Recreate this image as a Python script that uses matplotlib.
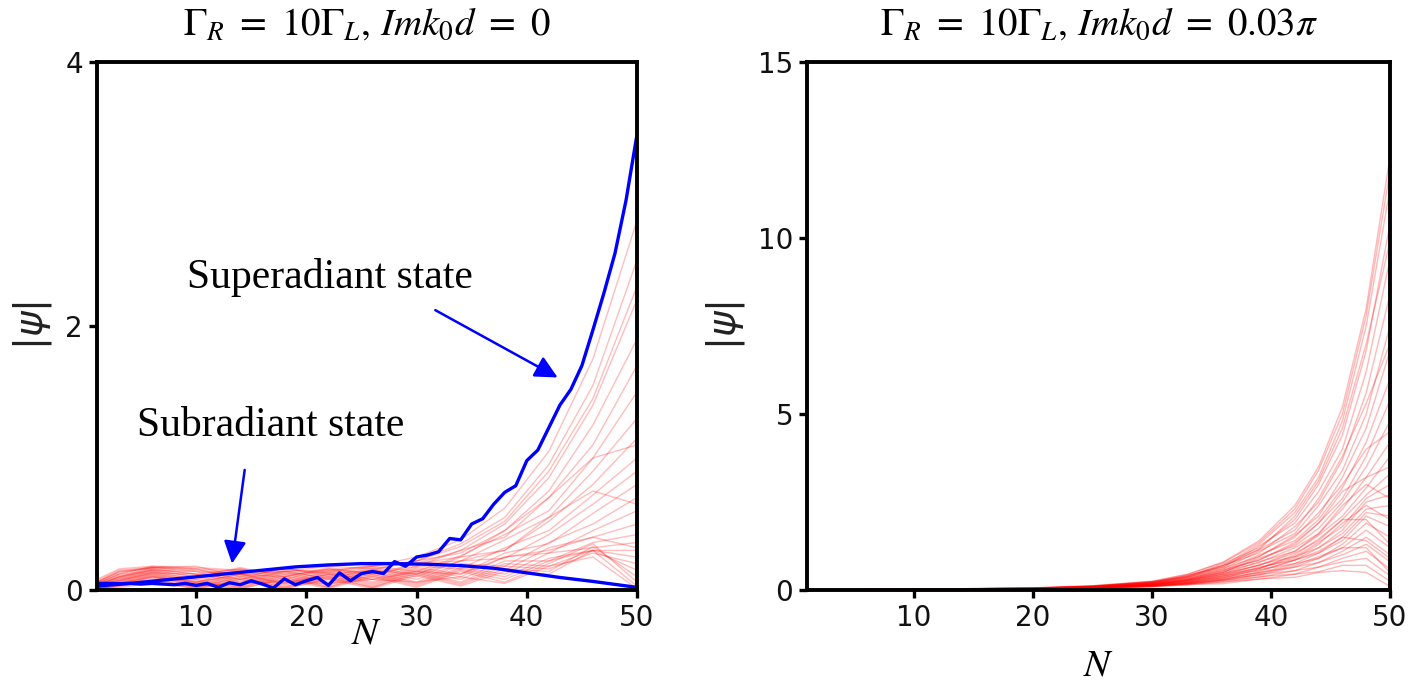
import matplotlib
matplotlib.use("Agg")
import matplotlib.pyplot as plt

# ---------------- data ----------------
N_full = list(range(1, 51))
super_state = [0.05, 0.05, 0.048, 0.05, 0.045, 0.05, 0.045, 0.04, 0.05, 0.035,
               0.05, 0.02, 0.055, 0.04, 0.07, 0.045, 0.015, 0.085, 0.04, 0.07,
               0.095, 0.035, 0.13, 0.07, 0.125, 0.14, 0.125, 0.215, 0.18, 0.25,
               0.265, 0.29, 0.39, 0.38, 0.50, 0.54, 0.65, 0.74, 0.79, 0.98,
               1.06, 1.23, 1.40, 1.52, 1.70, 1.97, 2.25, 2.55, 2.95, 3.45]

N_sub = [1, 4, 7, 10, 13, 16, 19, 22, 25, 28, 31, 34, 37, 40, 43, 46, 50]
sub_state = [0.03, 0.05, 0.075, 0.10, 0.125, 0.15, 0.175, 0.19, 0.20, 0.20,
             0.195, 0.185, 0.165, 0.13, 0.095, 0.065, 0.02]

# left panel: red eigenstates, sampled at knots
N_left = [1, 3, 6, 10, 14, 18, 22, 26, 30, 34, 38, 42, 46, 50]
left_states = [
    [0.08, 0.16, 0.18, 0.17, 0.15, 0.14, 0.15, 0.18, 0.25, 0.38, 0.62, 1.05, 1.75, 2.80],
    [0.07, 0.15, 0.17, 0.15, 0.12, 0.14, 0.18, 0.16, 0.22, 0.35, 0.55, 0.95, 1.55, 2.50],
    [0.06, 0.14, 0.17, 0.16, 0.14, 0.16, 0.13, 0.18, 0.22, 0.33, 0.52, 0.90, 1.45, 2.30],
    [0.06, 0.14, 0.16, 0.12, 0.16, 0.12, 0.14, 0.19, 0.20, 0.30, 0.50, 0.85, 1.40, 2.20],
    [0.06, 0.13, 0.17, 0.18, 0.10, 0.16, 0.12, 0.15, 0.22, 0.28, 0.45, 0.75, 1.25, 1.90],
    [0.05, 0.12, 0.15, 0.10, 0.17, 0.10, 0.17, 0.12, 0.18, 0.30, 0.40, 0.70, 1.10, 1.70],
    [0.05, 0.12, 0.18, 0.16, 0.08, 0.17, 0.10, 0.18, 0.14, 0.26, 0.42, 0.60, 1.00, 1.50],
    [0.05, 0.11, 0.14, 0.08, 0.16, 0.08, 0.16, 0.10, 0.20, 0.22, 0.38, 0.55, 0.90, 1.30],
    [0.04, 0.10, 0.17, 0.14, 0.06, 0.15, 0.08, 0.17, 0.12, 0.25, 0.30, 0.52, 0.80, 1.15],
    [0.04, 0.10, 0.15, 0.14, 0.12, 0.10, 0.16, 0.12, 0.20, 0.25, 0.45, 0.70, 1.00, 1.10],
    [0.04, 0.10, 0.13, 0.06, 0.15, 0.06, 0.15, 0.08, 0.18, 0.16, 0.32, 0.45, 0.72, 1.00],
    [0.04, 0.09, 0.16, 0.12, 0.05, 0.14, 0.06, 0.16, 0.10, 0.22, 0.24, 0.42, 0.65, 0.90],
    [0.03, 0.09, 0.12, 0.05, 0.13, 0.05, 0.14, 0.06, 0.17, 0.12, 0.28, 0.35, 0.58, 0.80],
    [0.03, 0.08, 0.15, 0.10, 0.04, 0.13, 0.05, 0.15, 0.08, 0.20, 0.18, 0.36, 0.50, 0.70],
    [0.03, 0.07, 0.13, 0.12, 0.08, 0.14, 0.09, 0.15, 0.12, 0.22, 0.30, 0.55, 0.75, 0.65],
    [0.03, 0.08, 0.11, 0.04, 0.12, 0.04, 0.13, 0.05, 0.16, 0.10, 0.25, 0.28, 0.45, 0.60],
    [0.03, 0.07, 0.14, 0.08, 0.03, 0.12, 0.04, 0.14, 0.06, 0.19, 0.15, 0.32, 0.40, 0.50],
    [0.02, 0.07, 0.10, 0.03, 0.11, 0.03, 0.12, 0.04, 0.15, 0.08, 0.22, 0.22, 0.36, 0.42],
    [0.02, 0.06, 0.13, 0.07, 0.02, 0.11, 0.03, 0.13, 0.05, 0.17, 0.12, 0.28, 0.32, 0.36],
    [0.02, 0.05, 0.10, 0.06, 0.12, 0.05, 0.12, 0.08, 0.14, 0.12, 0.25, 0.30, 0.40, 0.32],
    [0.02, 0.06, 0.09, 0.02, 0.10, 0.02, 0.11, 0.03, 0.14, 0.06, 0.20, 0.18, 0.30, 0.30],
    [0.02, 0.05, 0.12, 0.06, 0.02, 0.10, 0.02, 0.12, 0.04, 0.16, 0.10, 0.24, 0.30, 0.25],
    [0.02, 0.05, 0.08, 0.02, 0.09, 0.02, 0.10, 0.02, 0.13, 0.05, 0.18, 0.16, 0.28, 0.20],
    [0.01, 0.04, 0.11, 0.05, 0.01, 0.09, 0.02, 0.11, 0.03, 0.15, 0.08, 0.22, 0.30, 0.15],
    [0.01, 0.04, 0.07, 0.01, 0.08, 0.01, 0.09, 0.02, 0.12, 0.04, 0.16, 0.14, 0.33, 0.10],
    [0.01, 0.03, 0.10, 0.04, 0.01, 0.08, 0.01, 0.10, 0.02, 0.14, 0.06, 0.20, 0.35, 0.06],
    [0.01, 0.03, 0.06, 0.01, 0.07, 0.01, 0.08, 0.01, 0.11, 0.03, 0.14, 0.12, 0.30, 0.03],
    [0.01, 0.02, 0.05, 0.03, 0.05, 0.06, 0.05, 0.08, 0.06, 0.10, 0.05, 0.18, 0.25, 0.01],
]

# right panel: red eigenstates, sampled at knots
N_right = [1, 10, 20, 25, 30, 33, 36, 39, 42, 44, 46, 48, 50]
right_states = [
    [0.0, 0.02, 0.06, 0.12, 0.25, 0.45, 0.80, 1.40, 2.40, 3.50, 5.2, 8.0, 12.3],
    [0.0, 0.02, 0.06, 0.12, 0.24, 0.44, 0.78, 1.35, 2.30, 3.40, 5.0, 7.8, 11.9],
    [0.0, 0.02, 0.06, 0.11, 0.22, 0.40, 0.70, 1.30, 2.20, 3.20, 4.8, 7.5, 11.4],
    [0.0, 0.02, 0.05, 0.11, 0.24, 0.38, 0.75, 1.20, 2.00, 3.00, 4.4, 6.8, 10.4],
    [0.0, 0.02, 0.05, 0.10, 0.20, 0.36, 0.66, 1.15, 2.10, 3.10, 4.6, 7.0, 9.9],
    [0.0, 0.02, 0.05, 0.10, 0.20, 0.42, 0.65, 1.25, 1.90, 2.80, 4.0, 6.2, 9.4],
    [0.0, 0.02, 0.05, 0.10, 0.23, 0.35, 0.70, 1.05, 1.80, 2.50, 3.7, 5.6, 8.4],
    [0.0, 0.02, 0.05, 0.09, 0.19, 0.38, 0.60, 1.10, 1.60, 2.40, 3.4, 5.0, 7.5],
    [0.0, 0.02, 0.05, 0.10, 0.22, 0.40, 0.70, 1.15, 1.70, 2.60, 3.8, 5.3, 7.0],
    [0.0, 0.02, 0.05, 0.09, 0.21, 0.32, 0.62, 0.95, 1.55, 2.10, 3.2, 4.6, 6.8],
    [0.0, 0.02, 0.05, 0.09, 0.18, 0.35, 0.55, 1.00, 1.40, 2.00, 2.9, 4.2, 6.0],
    [0.0, 0.02, 0.04, 0.09, 0.20, 0.30, 0.58, 0.85, 1.35, 1.90, 2.6, 3.8, 5.4],
    [0.0, 0.02, 0.04, 0.08, 0.17, 0.33, 0.50, 0.90, 1.25, 1.75, 2.5, 3.5, 4.8],
    [0.0, 0.01, 0.03, 0.07, 0.15, 0.28, 0.50, 0.95, 1.50, 2.20, 3.0, 4.0, 4.5],
    [0.0, 0.02, 0.04, 0.08, 0.19, 0.28, 0.52, 0.78, 1.20, 1.60, 2.3, 3.2, 4.2],
    [0.0, 0.02, 0.04, 0.08, 0.16, 0.30, 0.46, 0.80, 1.10, 1.55, 2.1, 2.9, 3.8],
    [0.0, 0.01, 0.03, 0.07, 0.16, 0.30, 0.55, 0.85, 1.30, 1.90, 2.8, 3.2, 3.5],
    [0.0, 0.02, 0.04, 0.08, 0.18, 0.26, 0.48, 0.70, 1.05, 1.40, 2.0, 2.7, 3.3],
    [0.0, 0.01, 0.04, 0.07, 0.15, 0.28, 0.42, 0.72, 0.95, 1.35, 1.8, 2.6, 3.0],
    [0.0, 0.01, 0.04, 0.07, 0.17, 0.24, 0.44, 0.62, 0.95, 1.20, 1.7, 2.5, 2.7],
    [0.0, 0.01, 0.03, 0.06, 0.14, 0.26, 0.45, 0.70, 1.10, 1.60, 2.4, 3.0, 2.6],
    [0.0, 0.01, 0.04, 0.07, 0.14, 0.26, 0.38, 0.65, 0.85, 1.20, 1.6, 2.3, 2.4],
    [0.0, 0.01, 0.03, 0.07, 0.16, 0.22, 0.40, 0.55, 0.85, 1.05, 1.5, 2.2, 2.1],
    [0.0, 0.01, 0.03, 0.06, 0.13, 0.22, 0.40, 0.62, 0.90, 1.30, 1.9, 2.4, 2.0],
    [0.0, 0.01, 0.03, 0.06, 0.13, 0.24, 0.34, 0.58, 0.75, 1.05, 1.4, 2.1, 1.8],
    [0.0, 0.01, 0.03, 0.06, 0.15, 0.20, 0.36, 0.48, 0.75, 0.90, 1.3, 1.9, 1.5],
    [0.0, 0.01, 0.03, 0.06, 0.12, 0.20, 0.35, 0.60, 1.00, 1.45, 2.0, 2.0, 1.3],
    [0.0, 0.01, 0.03, 0.06, 0.12, 0.22, 0.30, 0.50, 0.65, 0.90, 1.2, 1.7, 1.2],
    [0.0, 0.01, 0.03, 0.06, 0.14, 0.18, 0.32, 0.42, 0.65, 0.78, 1.1, 1.5, 1.0],
    [0.0, 0.01, 0.02, 0.05, 0.11, 0.18, 0.30, 0.52, 0.85, 1.10, 1.5, 1.4, 0.9],
    [0.0, 0.01, 0.03, 0.05, 0.11, 0.20, 0.26, 0.44, 0.55, 0.78, 1.0, 1.3, 0.8],
    [0.0, 0.01, 0.03, 0.05, 0.12, 0.16, 0.28, 0.36, 0.55, 0.65, 0.9, 1.1, 0.6],
    [0.0, 0.01, 0.02, 0.05, 0.10, 0.17, 0.28, 0.45, 0.70, 0.95, 1.2, 1.2, 0.5],
    [0.0, 0.01, 0.02, 0.05, 0.10, 0.18, 0.22, 0.38, 0.45, 0.65, 0.8, 0.9, 0.4],
    [0.0, 0.01, 0.02, 0.05, 0.11, 0.14, 0.24, 0.30, 0.45, 0.52, 0.7, 0.7, 0.25],
    [0.0, 0.01, 0.02, 0.04, 0.09, 0.16, 0.18, 0.32, 0.36, 0.50, 0.55, 0.5, 0.1],
]

left_title = r"$\Gamma_R\ =\ 10\Gamma_L,\,Imk_0d\ =\ 0$"
right_title = r"$\Gamma_R\ =\ 10\Gamma_L,\,Imk_0d\ =\ 0.03\pi$"
left_yticks = [0, 2, 4]
right_yticks = [0, 5, 10, 15]
xticks = [10, 20, 30, 40, 50]

# ---------------- figure ----------------
fig = plt.figure(figsize=(14.08, 6.85), dpi=100)
axL = fig.add_axes([97 / 1408, 95 / 685, 540 / 1408, 528 / 685])
axR = fig.add_axes([807 / 1408, 95 / 685, 583 / 1408, 528 / 685])

for st in left_states:
    axL.plot(N_left, st, color="red", alpha=0.26, lw=1.0)
axL.plot(N_full, super_state, color="blue", lw=2.4)
axL.plot(N_sub, sub_state, color="blue", lw=2.4)

for st in right_states:
    axR.plot(N_right, st, color="red", alpha=0.28, lw=1.0)

axL.set_xlim(1, 50)
axL.set_ylim(0, 4)
axL.set_yticks(left_yticks)
axR.set_xlim(1, 50)
axR.set_ylim(0, 15)
axR.set_yticks(right_yticks)

for ax, title, ylab in ((axL, left_title, -0.045), (axR, right_title, -0.106)):
    ax.set_xticks(xticks)
    for sp in ax.spines.values():
        sp.set_linewidth(2.8)
    ax.tick_params(direction="out", length=6, width=2.4, labelsize=20, pad=4,
                   labelcolor="#111111")
    ax.set_title(title, fontsize=28, math_fontfamily="stix", pad=20)
    ax.set_xlabel(r"$N$", fontsize=28, math_fontfamily="stix")
    ax.xaxis.set_label_coords(0.5, ylab)
    ax.set_ylabel(r"$|\psi|$", fontsize=28, labelpad=8, color="#222222")

# annotations
serif = ["Liberation Serif", "DejaVu Serif"]
axL.text(9.17, 2.29, "Superadiant state", fontsize=30, family=serif, va="baseline")
axL.text(4.63, 1.17, "Subradiant state", fontsize=30, family=serif, va="baseline")
axL.annotate("", xy=(42.8, 1.61), xytext=(31.7, 2.12),
             arrowprops=dict(arrowstyle="-|>", color="blue", lw=1.8, mutation_scale=34,
                             shrinkA=0, shrinkB=0))
axL.annotate("", xy=(13.25, 0.20), xytext=(14.4, 0.91),
             arrowprops=dict(arrowstyle="-|>", color="blue", lw=1.8, mutation_scale=34,
                             shrinkA=0, shrinkB=0))

fig.savefig("out.png", dpi=100)
